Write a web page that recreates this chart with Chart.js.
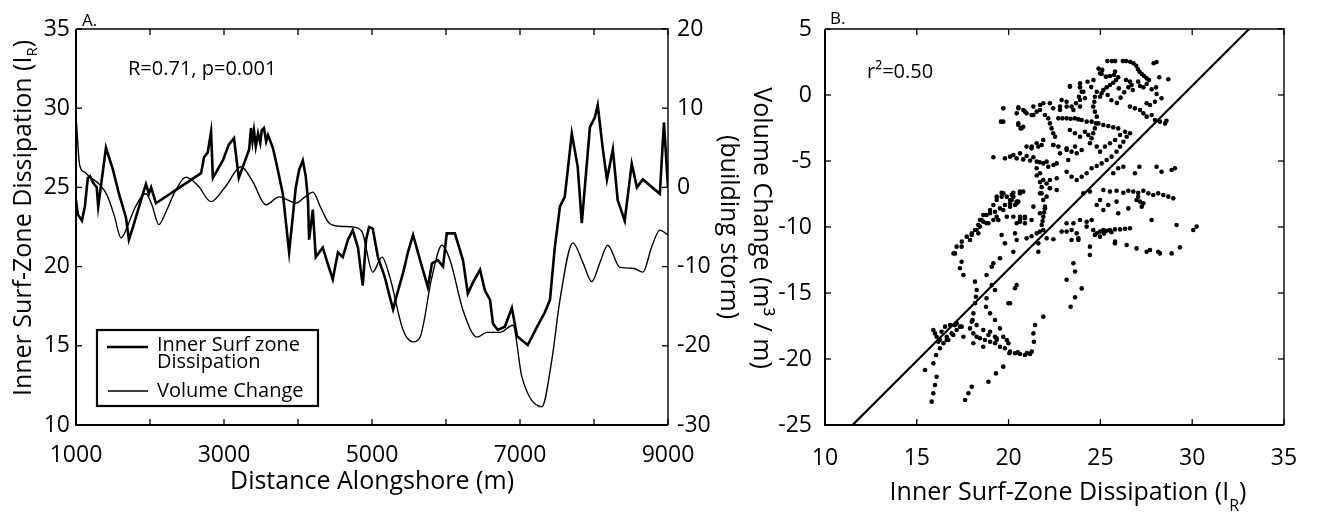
<!DOCTYPE html>
<html>
<head>
<meta charset="utf-8">
<script src="https://cdn.jsdelivr.net/npm/chart.js@4.4.1/dist/chart.umd.min.js"></script>
<style>
  html, body { margin: 0; padding: 0; background: #fff; }
  #wrap { position: relative; width: 1322px; height: 515px; overflow: hidden; background: #fff; }
  #cA { position: absolute; left: 0; top: 0; width: 722px; height: 515px; }
  #cB { position: absolute; left: 700px; top: 0; width: 622px; height: 515px; }
</style>
</head>
<body>
<div id="wrap">
  <canvas id="cA" width="722" height="515"></canvas>
  <canvas id="cB" width="622" height="515"></canvas>
</div>
<script>
// ---------- Panel A: alongshore profiles ----------
// Inner surf-zone dissipation (left axis)
const distance = [
  1000, 1025, 1080, 1120, 1160, 1190, 1230, 1280, 1300, 1340,
  1405, 1500, 1580, 1675, 1715, 1770, 1840, 1905, 1945, 1985,
  2015, 2080, 2690, 2730, 2780, 2825, 2850, 2985, 3065, 3135,
  3200, 3255, 3340, 3365, 3385, 3405, 3430, 3460, 3490, 3510,
  3540, 3570, 3595, 3660, 3700, 3795, 3880, 3970, 4015, 4065,
  4105, 4135, 4150, 4200, 4240, 4335, 4400, 4470, 4540, 4605,
  4675, 4740, 4810, 4875, 4920, 4960, 5010, 5080, 5175, 5240,
  5285, 5335, 5420, 5485, 5555, 5650, 5755, 5810, 5890, 5960,
  6010, 6120, 6230, 6295, 6365, 6460, 6525, 6595, 6635, 6700,
  6795, 6890, 6960, 7105, 7230, 7335, 7405, 7470, 7540, 7605,
  7700, 7780, 7835, 7945, 8010, 8050, 8120, 8175, 8255, 8320,
  8415, 8510, 8580, 8660, 8890, 8945, 9000
];
const dissipation = [
  24.2, 23.3, 22.9, 23.8, 25.6, 25.7, 25.3, 25.0, 23.8, 25.2,
  27.5, 26.1, 24.6, 23.1, 21.7, 22.5, 23.6, 24.6, 25.2, 24.6,
  25.0, 24.0, 25.9, 26.9, 27.2, 28.5, 25.6, 26.7, 27.7, 28.1,
  25.6, 26.3, 27.4, 28.75, 27.9, 28.6, 27.6, 28.4, 27.8, 28.6,
  28.75, 27.9, 28.3, 27.5, 26.7, 24.6, 20.9, 25.0, 26.1, 26.7,
  25.7, 24.2, 21.7, 23.6, 20.6, 21.2, 20.2, 19.2, 20.9, 20.6,
  21.7, 22.3, 21.2, 18.8, 21.7, 22.5, 22.4, 20.6, 19.3, 18.1,
  17.3, 18.2, 19.6, 20.9, 22.0, 20.4, 18.7, 20.2, 20.4, 20.0,
  22.1, 22.1, 20.4, 18.3, 19.0, 19.8, 18.5, 17.9, 16.4, 16.0,
  16.2, 17.4, 15.6, 15.05, 16.2, 17.1, 17.9, 21.2, 23.8, 24.4,
  28.4, 26.3, 22.75, 28.8, 29.4, 30.2, 27.4, 25.5, 27.4, 24.2,
  22.9, 26.5, 25.0, 25.5, 24.6, 29.1, 25.0
];

// Volume change, building storm (right axis, m^3/m)
const volumeDistance = [
  1000, 1050, 1120, 1190, 1325, 1420, 1515, 1610, 1705, 1795,
  1945, 2025, 2120, 2215, 2335, 2485, 2650, 2825, 3015, 3230,
  3390, 3565, 3745, 3865, 3970, 4095, 4200, 4310, 4420, 4565,
  4740, 4865, 5010, 5135, 5240, 5420, 5555, 5650, 5810, 5945,
  6055, 6230, 6420, 6555, 6730, 6905, 7025, 7295, 7430, 7540,
  7715, 7850, 7970, 8080, 8185, 8350, 8525, 8660, 8780, 8890,
  9000
];
const volumeChange = [
  9.1, 2.8, 1.9, 1.3, 0.3, -1.0, -3.5, -6.4, -4.7, -2.6,
  -0.8, -2.2, -4.7, -3.1, -0.6, 1.3, 0.2, -1.8, 0.05, 2.6,
  0.7, -2.2, -1.2, -1.6, -2.0, -1.2, -0.6, -2.6, -4.5, -4.9,
  -5.0, -5.6, -10.7, -8.8, -11.3, -18.0, -19.5, -18.9, -11.3, -7.3,
  -9.2, -15.5, -18.9, -18.3, -18.3, -17.4, -23.9, -27.7, -21.8, -14.2,
  -7.0, -9.5, -11.9, -9.5, -7.3, -10.1, -10.2, -10.7, -7.5, -5.4,
  -6.0
];

const distanceTicks = [1000, 2000, 3000, 4000, 5000, 6000, 7000, 8000, 9000];
const distanceLabels = [1000, 3000, 5000, 7000, 9000];
const dissipationTicks = [10, 15, 20, 25, 30, 35];
const volumeTicksA = [-30, -20, -10, 0, 10, 20];

// ---------- Panel B: volume change vs dissipation ----------
// [dissipation I_R, volume change m^3/m]
const scatterPoints = [
  [25.38,2.57],[25.62,2.57],[25.8,2.57],[26.22,2.57],[26.4,2.57],[26.62,2.52],[26.8,2.4],[26.95,2.22],
  [27.04,1.97],[27.13,1.77],[27.25,1.59],[27.38,1.44],[27.52,1.26],[27.65,1.14],[27.9,2.4],[28.06,2.5],
  [28.21,1.34],[28.7,1.19],
  [25.07,1.59],[25.3,1.39],[25.52,1.44],[25.74,1.51],[25.97,1.34],[25.85,1.14],[25.7,0.93],[25.52,0.76],
  [25.34,0.58],[25.16,0.38],[25.07,0.13],[24.98,-0.13],[26.39,1.14],[26.61,1.01],[26.7,0.76],[26.52,0.58],
  [26.76,0.38],[27.06,1.01],[27.16,0.68],[27.34,0.58],[27.52,0.83],[27.79,0.43],[28.03,0.58],[28.06,0.08],
  [28.33,-0.25],[27.97,-0.51],[27.7,-0.76],[27.52,-0.63],[23.34,0.68],[23.89,0.58],[23.98,0.25],[23.83,-0.13],
  [24.9,2.0],[25.1,1.9],[24.3,1.0],[24.5,0.6],[25.4,0.0],[25.6,-0.4],[25.9,-0.6],[26.1,-0.2],[26.3,0.2],[26.0,0.5],
  [24.8,0.25],[24.7,-0.13],[24.67,-0.51],[24.61,-0.88],[24.7,-1.26],[24.8,-1.64],[24.76,-2.15],[24.7,-2.53],
  [24.61,-2.9],[24.52,-3.28],
  [20.53,-0.93],[20.8,-1.14],[20.98,-1.39],[21.25,-1.52],[21.53,-1.26],[21.71,-1.14],[21.98,-1.52],[22.16,-1.77],
  [22.25,-2.15],[22.34,-2.53],[22.43,-2.9],[22.53,-3.16],
  [22.71,-1.77],[22.93,-1.77],[23.16,-1.77],[23.38,-1.8],[23.61,-1.77],[23.8,-1.85],[23.98,-1.89],[24.25,-2.02],
  [24.52,-2.02],[24.89,-2.15],[25.16,-2.27],[25.43,-2.35],[25.7,-2.45],[25.97,-2.53],
  [22.89,-0.38],[23.16,-0.88],[23.43,-0.88],[23.67,-0.63],[23.89,-0.38],[24.16,-0.25],[21.35,-0.88],[21.89,-0.63],
  [22.25,-0.63],[22.43,-1.01],[22.8,-1.14],
  [26.61,-0.88],[26.88,-1.01],[27.16,-1.14],[27.34,-1.39],[27.52,-1.64],[27.79,-1.52],[27.97,-1.89],[28.24,-2.02],
  [28.52,-2.15],[28.6,-1.95],
  [19.58,-2.02],[20.53,-2.15],[20.66,-2.53],[20.8,-2.4],
  [23.34,-2.65],[23.61,-2.9],[23.89,-3.16],[24.16,-2.78],[24.34,-3.03],[24.43,-3.66],[24.8,-3.91],[24.98,-4.29],
  [25.25,-3.91],[25.52,-3.66],[25.8,-3.41],[26.07,-3.03],[26.34,-2.78],
  [20.98,-3.91],[21.25,-4.04],[21.62,-3.91],[21.8,-3.79],[22.43,-3.79],[22.71,-3.91],[23.16,-4.04],[23.43,-4.29],
  [23.71,-4.42],[23.98,-4.17],
  [19.17,-4.72],[19.8,-4.8],[20.08,-4.67],[20.44,-4.8],[20.8,-4.88],[21.17,-4.97],[21.53,-5.05],[21.89,-5.18],
  [20.26,-4.55],[20.62,-4.42],[20.98,-4.62],[21.35,-4.72],[22.07,-5.05],[21.7,-5.1],
  [21.53,-6.1],[21.71,-6.6],[21.8,-6.98],[22.07,-6.7],[22.25,-7.07],[22.62,-7.2],[21.8,-7.45],[19.71,-7.45],
  [19.9,-7.7],[20.17,-7.95],[20.44,-8.08],[20.62,-7.45],[20.8,-7.32],[21.35,-8.46],[21.71,-8.96],[21.98,-8.59],
  [21.89,-7.95],[20.89,-9.22],[20.62,-9.6],[21.25,-9.47],
  [25.16,-7.2],[25.52,-7.32],[25.88,-7.25],[26.25,-7.4],[26.52,-7.25],[26.79,-7.32],[27.06,-7.4],[27.34,-7.25],
  [27.61,-7.45],[27.88,-7.58],[28.15,-7.45],[28.43,-7.58],[28.7,-7.7],[28.97,-7.83],[27.06,-7.7],[27.16,-8.08],
  [27.25,-8.46],[26.97,-7.95],[27.34,-8.21],[24.98,-7.95],[24.8,-8.33],[25.16,-8.71],[25.43,-8.33],[25.88,-8.08],
  [25.97,-8.96],[26.52,-8.59],[24.43,-7.32],[24.07,-7.45],
  [26.25,-5.43],[26.88,-5.93],[27.12,-5.43],[28.06,-5.43],[28.33,-5.81],[28.88,-5.68],[29.06,-5.55],[25.7,-5.93],
  [25.97,-5.55],
  [24.61,-10.23],[24.8,-10.48],[24.98,-10.35],[25.16,-10.23],[25.34,-10.28],[25.52,-10.23],[25.79,-10.18],
  [26.07,-10.18],[26.34,-10.13],[26.61,-10.1],[24.98,-10.73],[24.7,-10.6],[25.2,-10.5],[25.6,-10.4],
  [23.16,-9.72],[23.43,-10.23],[23.71,-10.48],[23.43,-10.98],[23.89,-9.47],[24.25,-9.97],[24.52,-9.47],
  [23.8,-10.86],[24.43,-11.49],[25.79,-11.24],[26.43,-11.36],[26.97,-11.62],[27.52,-11.87],[27.7,-11.74],
  [28.15,-11.87],[28.24,-12.0],[28.88,-12.0],[29.33,-11.54],
  [27.79,-9.47],[29.15,-9.85],[30.06,-10.23],[30.24,-9.97],
  [20.98,-10.86],[21.25,-10.7],[21.53,-10.48],[21.7,-10.35],[21.89,-10.23],[22.07,-10.86],[22.44,-10.93],
  [21.98,-8.59],[21.93,-8.9],[21.89,-9.22],[21.85,-9.55],[21.8,-9.85],[21.62,-11.24],[21.62,-11.87],
  [22.89,-10.35],[23.16,-10.35],[23.53,-9.72],[24.25,-9.6],
  [23.8,-10.98],[24.43,-12.12],[25.8,-11.11],
  [23.53,-12.75],[23.62,-13.38],[23.16,-14.0],[23.98,-14.65],[23.62,-15.33],[23.38,-16.04],
  [17.08,-12.0],[17.44,-11.49],[17.9,-10.98],[18.35,-10.48],[18.44,-9.47],[18.8,-9.72],[18.99,-8.96],[18.62,-9.09],
  [19.26,-8.84],[19.53,-8.59],[19.8,-8.33],[20.08,-8.21],[20.35,-8.33],[20.53,-8.08],
  [19.62,-10.61],[19.8,-11.24],[20.26,-11.87],[20.62,-9.22],[20.89,-9.72],[20.44,-9.72],
  [17.44,-12.63],[17.35,-13.13],[17.54,-13.64],[18.17,-14.14],[18.26,-14.77],[18.22,-15.28],[18.17,-15.78],
  [18.08,-16.54],[18.04,-17.05],[18.8,-13.64],[19.08,-13.01],[19.53,-12.37],[19.26,-14.77],[18.8,-15.4],
  [18.77,-16.04],[18.99,-16.54],[19.26,-17.05],[19.53,-17.68],[19.71,-18.31],[19.35,-18.56],[19.99,-18.81],
  [20.04,-19.57],[20.44,-14.39],[20.08,-15.78],[21.89,-16.79],[21.44,-17.43],[21.35,-18.06],[21.38,-18.69],
  [20.35,-14.64],[19.99,-15.78],[19.17,-12.75],[19.08,-14.39],
  [15.9,-17.8],[15.99,-18.06],[16.08,-18.31],[16.26,-18.56],[16.45,-18.81],[16.63,-18.31],[16.54,-17.55],
  [16.81,-17.43],[17.08,-17.43],[17.35,-17.55],[17.17,-17.8],[16.9,-18.06],[16.35,-17.93],[16.17,-18.69],
  [16.63,-18.56],[17.54,-18.31],[16.72,-18.56],[16.99,-18.18],[17.17,-17.3],[17.44,-17.55],
  [17.9,-17.68],[18.08,-18.06],[18.26,-18.31],[18.44,-18.43],[18.71,-18.56],[18.99,-18.69],[19.26,-18.81],
  [19.53,-19.07],[19.8,-19.19],[20.08,-19.44],[20.35,-19.57],[20.62,-19.62],[20.89,-19.7],[21.17,-19.62],
  [21.26,-19.44],[21.0,-19.55],[20.5,-19.5],
  [17.99,-17.17],[18.26,-17.43],[18.08,-18.81],[18.62,-19.07],[18.99,-17.93],[19.26,-18.31],[18.62,-17.8],
  [18.9,-18.18],[19.35,-18.43],[19.9,-18.56],
  [15.45,-20.83],[15.9,-20.33],[16.05,-19.7],[16.26,-19.19],[16.08,-21.34],[15.99,-21.97],[15.9,-22.6],[15.81,-23.23],
  [17.63,-23.11],[17.81,-22.6],[17.99,-22.1],[18.9,-21.72],[19.31,-21.09],[19.71,-20.58],
  [19.71,-2.02],[20.53,-1.01],[20.89,-1.26],[21.35,-1.52],[21.71,-0.76],[22.8,-0.88],[23.16,-0.51],[23.53,-1.14],
  [23.89,-0.88],[23.34,0.63],[23.89,0.88],[24.07,0.25],[24.62,1.14],[24.98,1.64],[25.8,1.77],
  [21.26,-3.91],[21.53,-3.66],[21.89,-3.41],[22.44,-3.79],[22.8,-4.42],[23.16,-4.17],[23.62,-3.91],
  [21.53,-5.55],[21.71,-5.93],[21.89,-6.44],[22.25,-6.44],[22.62,-6.31],[22.16,-5.43],[22.44,-5.3],
  [19.62,-7.7],[19.35,-7.95],[19.17,-8.33],[18.99,-8.71],[18.8,-9.09],[18.53,-9.47],[18.35,-9.85],[18.17,-10.23],
  [17.99,-10.61],[20.26,-7.7],[20.44,-8.21],[20.08,-8.46],[19.71,-8.71],[19.9,-9.22],[19.44,-9.47],[20.17,-7.58],
  [21.71,-7.45],[22.07,-7.7],[21.98,-8.46],[22.25,-7.07],
  [19.35,-7.7],[19.62,-7.4],[20.26,-7.4],[20.62,-7.32],[20.08,-7.95],[19.35,-9.22],[19.17,-9.47],[18.9,-9.72],
  [18.62,-9.6],[18.44,-9.97],[18.26,-10.23],[18.0,-10.48],[17.72,-10.73],[17.45,-11.11],[17.17,-11.49],[17.0,-12.0],
  [20.26,-9.22],[20.35,-10.48],[20.44,-10.98],[20.62,-9.47],[20.89,-9.34],
  [19.71,-1.01],[20.44,-1.39],[20.71,-2.52],[20.53,-2.27],
  [22.62,-5.18],[23.25,-4.92],[23.16,-5.81],[23.43,-6.19],[23.71,-6.44],[23.98,-6.19],[24.25,-5.93],[24.52,-5.55],
  [24.8,-5.38],[25.07,-5.18],[25.34,-4.92],[25.61,-4.67],[25.88,-4.29],[26.07,-3.91],[26.25,-3.54],[26.43,-3.16],
  [26.61,-2.9]
];

// least-squares fit line end points (r^2 = 0.50)
const fitLineX = [11.5, 33.1];
const fitLineY = [-25, 5];

const dissipationTicksB = [10, 15, 20, 25, 30, 35];
const volumeTicksB = [-25, -20, -15, -10, -5, 0, 5];

// ---------- drawing helpers ----------
const FONT = '"Open Sans", "Noto Sans", "DejaVu Sans", sans-serif';

function drawRich(ctx, parts, x, y, align, angle) {
  ctx.save();
  ctx.translate(x, y);
  if (angle) ctx.rotate(angle);
  ctx.fillStyle = '#000';
  ctx.textBaseline = 'alphabetic';
  ctx.textAlign = 'left';
  let total = 0;
  parts.forEach(p => {
    ctx.font = p.size + 'px ' + FONT;
    p.w = ctx.measureText(p.text).width;
    total += p.w;
  });
  let cx = align === 'center' ? -total / 2 : (align === 'right' ? -total : 0);
  parts.forEach(p => {
    ctx.font = p.size + 'px ' + FONT;
    ctx.fillText(p.text, cx, p.dy || 0);
    cx += p.w;
  });
  ctx.restore();
}

const decor = {
  id: 'decor',
  afterDatasetsDraw(chart, args, opts) {
    const ctx = chart.ctx;
    const a = chart.chartArea;
    ctx.save();
    ctx.strokeStyle = '#000';
    ctx.lineCap = 'butt';
    // frame
    ctx.lineWidth = 1.4;
    ctx.beginPath();
    ctx.moveTo(a.left, a.top); ctx.lineTo(a.right, a.top); ctx.lineTo(a.right, a.bottom);
    ctx.stroke();
    ctx.lineWidth = 2;
    ctx.beginPath();
    ctx.moveTo(a.left, a.top); ctx.lineTo(a.left, a.bottom); ctx.lineTo(a.right, a.bottom);
    ctx.stroke();
    // inward tick marks
    const L = 6;
    ctx.lineWidth = 1.3;
    (opts.ticks || []).forEach(t => {
      const s = chart.scales[t.scale];
      t.values.forEach(v => {
        const p = s.getPixelForValue(v);
        t.sides.forEach(side => {
          ctx.beginPath();
          if (side === 'bottom') { ctx.moveTo(p, a.bottom); ctx.lineTo(p, a.bottom - L); }
          if (side === 'top') { ctx.moveTo(p, a.top); ctx.lineTo(p, a.top + L); }
          if (side === 'left') { ctx.moveTo(a.left, p); ctx.lineTo(a.left + L, p); }
          if (side === 'right') { ctx.moveTo(a.right, p); ctx.lineTo(a.right - L, p); }
          ctx.stroke();
        });
      });
    });
    // legend box
    const lg = opts.legend;
    if (lg) {
      ctx.fillStyle = '#fff';
      ctx.fillRect(lg.x, lg.y, lg.w, lg.h);
      ctx.lineWidth = 2.2;
      ctx.strokeRect(lg.x, lg.y, lg.w, lg.h);
      lg.items.forEach(it => {
        const ds = chart.data.datasets[it.dataset];
        ctx.lineWidth = ds.borderWidth;
        ctx.strokeStyle = ds.borderColor;
        ctx.beginPath();
        ctx.moveTo(it.x0, it.ly); ctx.lineTo(it.x1, it.ly);
        ctx.stroke();
        it.lines.forEach((txt, k) => {
          drawRich(ctx, [{ text: txt, size: lg.size }], it.tx, it.ty[k], 'left', 0);
        });
      });
    }
    // texts
    (opts.texts || []).forEach(t => drawRich(ctx, t.parts, t.x, t.y, t.align, t.angle || 0));
    ctx.restore();
  }
};

const tickFont = { family: FONT, size: 23 };

function fixedTicks(values) {
  return function (scale) { scale.ticks = values.map(v => ({ value: v })); };
}

// ---------- Panel A ----------
new Chart(document.getElementById('cA'), {
  type: 'scatter',
  data: {
    datasets: [
      {
        label: 'Inner Surf zone Dissipation',
        data: distance.map((d, i) => ({ x: d, y: dissipation[i] })),
        yAxisID: 'y',
        showLine: true,
        borderColor: '#000',
        borderWidth: 2.6,
        pointRadius: 0,
        tension: 0
      },
      {
        label: 'Volume Change',
        data: volumeDistance.map((d, i) => ({ x: d, y: volumeChange[i] })),
        yAxisID: 'y2',
        showLine: true,
        borderColor: '#000',
        borderWidth: 1.4,
        pointRadius: 0,
        cubicInterpolationMode: 'monotone'
      }
    ]
  },
  options: {
    responsive: false,
    animation: false,
    events: [],
    layout: { padding: { top: 29, left: 0, right: 0, bottom: 0 } },
    plugins: {
      legend: { display: false },
      tooltip: { enabled: false },
      decor: {
        ticks: [
          { scale: 'x', values: distanceTicks, sides: ['bottom', 'top'] },
          { scale: 'y', values: dissipationTicks, sides: ['left'] },
          { scale: 'y2', values: volumeTicksA, sides: ['right'] }
        ],
        legend: {
          x: 97, y: 330, w: 221, h: 76, size: 20,
          items: [
            { dataset: 0, x0: 107, x1: 148, ly: 347, tx: 157, ty: [351, 368], lines: ['Inner Surf zone', 'Dissipation'] },
            { dataset: 1, x0: 108, x1: 148, ly: 391, tx: 157, ty: [397], lines: ['Volume Change'] }
          ]
        },
        texts: [
          { parts: [{ text: 'A.', size: 17 }], x: 82, y: 26, align: 'left' },
          { parts: [{ text: 'R=0.71, p=0.001', size: 20 }], x: 128, y: 75, align: 'left' },
          { parts: [{ text: 'Distance Alongshore (m)', size: 25 }], x: 372, y: 489, align: 'center' },
          { parts: [{ text: 'Inner Surf-Zone Dissipation (I', size: 25 }, { text: 'R', size: 15, dy: 6 }, { text: ')', size: 25 }],
            x: 31, y: 218, align: 'center', angle: -Math.PI / 2 }
        ]
      }
    },
    scales: {
      x: {
        type: 'linear', position: 'bottom', min: 1000, max: 9000,
        afterBuildTicks: fixedTicks(distanceTicks),
        afterFit(s) { s.height = 90; },
        grid: { display: false, drawTicks: false },
        border: { display: false },
        ticks: {
          font: tickFont, color: '#000', padding: 17, autoSkip: false, maxRotation: 0,
          callback: v => distanceLabels.includes(v) ? String(v) : ''
        }
      },
      y: {
        type: 'linear', position: 'left', min: 10, max: 35,
        afterBuildTicks: fixedTicks(dissipationTicks),
        afterFit(s) { s.width = 76; },
        grid: { display: false, drawTicks: false },
        border: { display: false },
        ticks: { font: tickFont, color: '#000', padding: 6 }
      },
      y2: {
        type: 'linear', position: 'right', min: -30, max: 20,
        afterBuildTicks: fixedTicks(volumeTicksA),
        afterFit(s) { s.width = 54; },
        grid: { display: false, drawTicks: false },
        border: { display: false },
        ticks: { font: tickFont, color: '#000', padding: 9 }
      }
    }
  },
  plugins: [decor]
});

// ---------- Panel B ----------
new Chart(document.getElementById('cB'), {
  type: 'scatter',
  data: {
    datasets: [
      {
        label: 'Volume change vs dissipation',
        data: scatterPoints.map(p => ({ x: p[0], y: p[1] })),
        pointRadius: 2.3,
        pointBorderWidth: 0,
        pointBackgroundColor: '#000',
        showLine: false
      },
      {
        label: 'Fit',
        data: fitLineX.map((x, i) => ({ x: x, y: fitLineY[i] })),
        showLine: true,
        borderColor: '#000',
        borderWidth: 2.2,
        pointRadius: 0
      }
    ]
  },
  options: {
    responsive: false,
    animation: false,
    events: [],
    layout: { padding: { top: 29, left: 0, right: 38, bottom: 0 } },
    plugins: {
      legend: { display: false },
      tooltip: { enabled: false },
      decor: {
        ticks: [
          { scale: 'x', values: dissipationTicksB, sides: ['bottom', 'top'] },
          { scale: 'y', values: volumeTicksB, sides: ['left', 'right'] }
        ],
        texts: [
          { parts: [{ text: 'B.', size: 17 }], x: 130, y: 24, align: 'left' },
          { parts: [{ text: 'r²=0.50', size: 20 }], x: 167, y: 78, align: 'left' },
          { parts: [{ text: 'Inner Surf-Zone Dissipation (I', size: 25 }, { text: 'R', size: 16, dy: 11 }, { text: ')', size: 25 }],
            x: 368, y: 500, align: 'center' },
          { parts: [{ text: 'Volume Change (m³ / m)', size: 25 }], x: 54, y: 228, align: 'center', angle: Math.PI / 2 },
          { parts: [{ text: '(building storm)', size: 25 }], x: 21, y: 227, align: 'center', angle: Math.PI / 2 }
        ]
      }
    },
    scales: {
      x: {
        type: 'linear', position: 'bottom', min: 10, max: 35,
        afterBuildTicks: fixedTicks(dissipationTicksB),
        afterFit(s) { s.height = 90; },
        grid: { display: false, drawTicks: false },
        border: { display: false },
        ticks: { font: tickFont, color: '#000', padding: 20, autoSkip: false, maxRotation: 0 }
      },
      y: {
        type: 'linear', position: 'left', min: -25, max: 5,
        afterBuildTicks: fixedTicks(volumeTicksB),
        afterFit(s) { s.width = 125; },
        grid: { display: false, drawTicks: false },
        border: { display: false },
        ticks: { font: tickFont, color: '#000', padding: 13 }
      }
    }
  },
  plugins: [decor]
});
</script>
</body>
</html>
